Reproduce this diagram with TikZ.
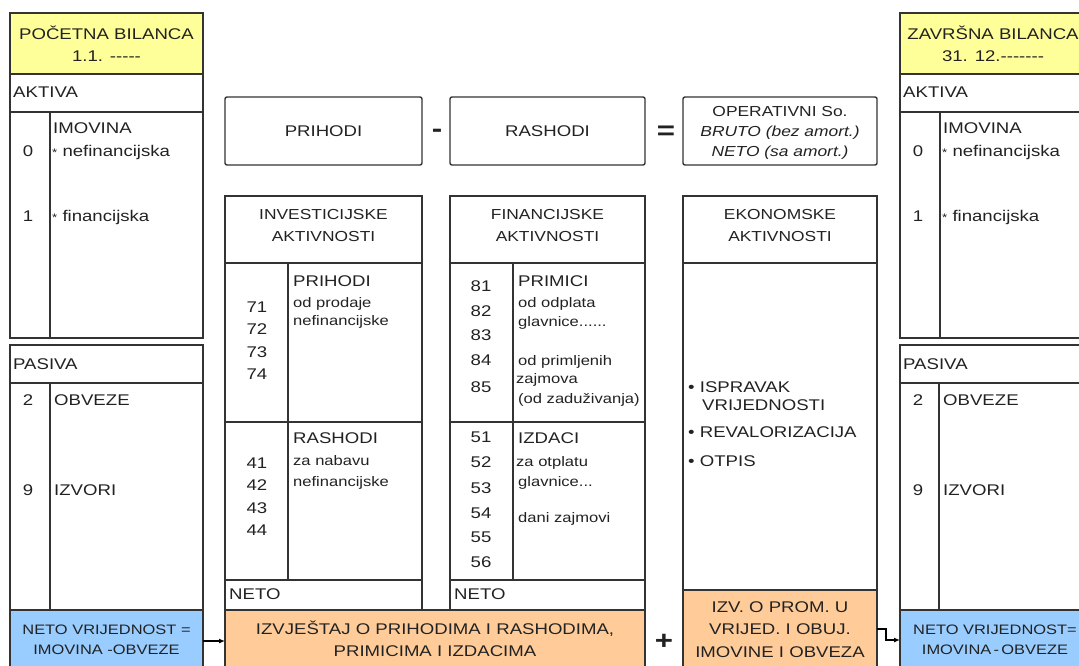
\documentclass[tikz,border=0pt]{standalone}
\usepackage{fontspec}
\setmainfont{Liberation Sans}[FakeStretch=1.2]
\usetikzlibrary{arrows.meta}
\definecolor{lc}{HTML}{333333}
\definecolor{txt}{HTML}{222222}
\definecolor{yel}{RGB}{255,255,153}
\definecolor{blu}{RGB}{153,204,255}
\definecolor{ora}{RGB}{255,204,153}
\newcommand\myBig{\fontsize{15.5}{22}\selectfont}
\newcommand\myMid{\fontsize{14.5}{22}\selectfont}
\newcommand\mySmall{\fontsize{13.8}{19}\selectfont}
\newcommand\myBlue{\fontsize{13.7}{20}\selectfont}
\newcommand\myOp{\fontsize{26}{26}\selectfont\bfseries}
\newcommand\hy{-\kern0pt\relax}
\begin{document}
\begin{tikzpicture}[x=1pt,y=-1pt,
  box/.style={draw=lc,line width=1.4pt,fill=white,anchor=north west,inner sep=0pt,outer sep=0pt},
  ln/.style={draw=lc,line width=1.4pt},
  lbl/.style={anchor=west,inner sep=0pt,text height=11pt,text depth=0pt,font=\myBig,text=txt},
  slbl/.style={anchor=west,inner sep=0pt,text height=10pt,text depth=0pt,font=\mySmall,text=txt},
  num/.style={inner sep=0pt,text height=11pt,text depth=0pt,font=\myBig,text=txt},
  mtxt/.style={align=center,inner sep=0pt,text=txt},
  optxt/.style={anchor=base,inner sep=0pt,font=\myOp,text=txt},
  arr/.style={draw=black,line width=1.2pt,-{Latex[length=6pt,width=5pt]}}
]
\useasboundingbox (0,0) rectangle (1079,666);
\fill[white] (0,0) rectangle (1079,666);
\clip (0,0) rectangle (1079,666);

% ---------- left column ----------
\node[box,fill=yel,minimum width=193pt,minimum height=61pt] (lhead) at (10,13) {};
\node[box,minimum width=193pt,minimum height=38pt] (lakt) at (10,74) {};
\node[box,minimum width=193pt,minimum height=226pt] (lbody) at (10,112) {};
\node[box,minimum width=193pt,minimum height=38pt] (lpas) at (10,345) {};
\node[box,minimum width=193pt,minimum height=227pt] (lpbody) at (10,383) {};
\node[box,fill=blu,minimum width=193pt,minimum height=62pt] (lblue) at (10,610) {};
\draw[ln] ([xshift=40pt]lbody.north west) -- ([xshift=40pt]lbody.south west);
\draw[ln] ([xshift=40pt]lpbody.north west) -- ([xshift=40pt]lpbody.south west);

\node[mtxt,font=\myBig] (lhead_t) at (106.5,43.5) {POČETNA BILANCA\\1.1. \hy\hy\hy\hy\hy};
\node[lbl] (lakt_t) at (13,92) {AKTIVA};
\node[num] (l0) at (28,151) {0};
\node[lbl] (limo) at (53,128) {IMOVINA};
\node[lbl] (lnef) at (52,151) {{\fontsize{11}{11}\selectfont*} nefinancijska};
\node[num] (l1) at (28,216) {1};
\node[lbl] (lfin) at (52,216) {{\fontsize{11}{11}\selectfont*} financijska};
\node[lbl] (lpas_t) at (13,364) {PASIVA};
\node[num] (l2) at (28,400) {2};
\node[lbl] (lobv) at (54,400) {OBVEZE};
\node[num] (l9) at (28,490) {9};
\node[lbl] (lizv) at (54,490) {IZVORI};
\node[mtxt,font=\myBlue] (lblue_t) at (106.5,640) {NETO VRIJEDNOST =\\IMOVINA \hy OBVEZE};

% ---------- right column ----------
\node[box,fill=yel,minimum width=193pt,minimum height=61pt] (rhead) at (900,13) {};
\node[box,minimum width=193pt,minimum height=38pt] (rakt) at (900,74) {};
\node[box,minimum width=193pt,minimum height=226pt] (rbody) at (900,112) {};
\node[box,minimum width=193pt,minimum height=38pt] (rpas) at (900,345) {};
\node[box,minimum width=193pt,minimum height=227pt] (rpbody) at (900,383) {};
\node[box,fill=blu,minimum width=193pt,minimum height=60pt] (rblue) at (900,610) {};
\draw[ln] ([xshift=40pt]rbody.north west) -- ([xshift=40pt]rbody.south west);
\draw[ln] ([xshift=39pt]rpbody.north west) -- ([xshift=39pt]rpbody.south west);

\node[mtxt,font=\myBig] (rhead_t) at (993,43.5) {ZAVRŠNA BILANCA\\31. 12.\hy\hy\hy\hy\hy\hy\hy};
\node[lbl] (rakt_t) at (903,92) {AKTIVA};
\node[num] (r0) at (918,151) {0};
\node[lbl] (rimo) at (943,128) {IMOVINA};
\node[lbl] (rnef) at (942,151) {{\fontsize{11}{11}\selectfont*} nefinancijska};
\node[num] (r1) at (918,216) {1};
\node[lbl] (rfin) at (942,216) {{\fontsize{11}{11}\selectfont*} financijska};
\node[lbl] (rpas_t) at (903,364) {PASIVA};
\node[num] (r2) at (918,400) {2};
\node[lbl] (robv) at (943,400) {OBVEZE};
\node[num] (r9) at (918,490) {9};
\node[lbl] (rizv) at (943,490) {IZVORI};
\node[mtxt,font=\myBlue] (rblue_t) at (995,640) {NETO VRIJEDNOST=\\IMOVINA\,\hy\,OBVEZE};

% ---------- top equation ----------
\node[box,rounded corners=2pt,minimum width=197pt,minimum height=68pt] (prih) at (225,97) {};
\node[box,rounded corners=2pt,minimum width=195pt,minimum height=68pt] (rash) at (450,97) {};
\node[box,rounded corners=2pt,minimum width=194pt,minimum height=68pt] (oper) at (683,97) {};
\node[mtxt,font=\myBig] (prih_t) at (prih.center) {PRIHODI};
\node[mtxt,font=\myBig] (rash_t) at (rash.center) {RASHODI};
\node[mtxt,font=\fontsize{14.5}{20}\selectfont] (oper_t) at (780,132.5) {OPERATIVNI So.\\\textit{BRUTO (bez amort.)}\\\textit{NETO (sa amort.)}};
\node[optxt] (minus) at (437,138) {-};
\node[optxt] (eq) at (666,140) {=};

% ---------- investicijske ----------
\node[box,minimum width=197pt,minimum height=67pt] (invh) at (225,196) {};
\node[box,minimum width=197pt,minimum height=159pt] (invp) at (225,263) {};
\node[box,minimum width=197pt,minimum height=158pt] (invr) at (225,422) {};
\node[box,minimum width=197pt,minimum height=30pt] (invn) at (225,580) {};
\draw[ln] ([xshift=63pt]invp.north west) -- ([xshift=63pt]invr.south west);
\node[mtxt,font=\myMid] (invh_t) at (323.5,226) {INVESTICIJSKE\\AKTIVNOSTI};
\foreach \t/\y in {71/307,72/329,73/352,74/374,41/463,42/485,43/508,44/530}
  \node[num] (n\t) at (257,\y) {\t};
\node[lbl] (invp_a) at (293,281) {PRIHODI};
\node[slbl] (invp_b) at (293,302) {od prodaje};
\node[slbl] (invp_c) at (293,320) {nefinancijske};
\node[lbl] (invr_a) at (293,438) {RASHODI};
\node[slbl] (invr_b) at (293,460) {za nabavu};
\node[slbl] (invr_c) at (293,481) {nefinancijske};
\node[lbl] (invn_t) at (229,594) {NETO};

% ---------- financijske ----------
\node[box,minimum width=195pt,minimum height=67pt] (finh) at (450,196) {};
\node[box,minimum width=195pt,minimum height=159pt] (finp) at (450,263) {};
\node[box,minimum width=195pt,minimum height=158pt] (finr) at (450,422) {};
\node[box,minimum width=195pt,minimum height=30pt] (finn) at (450,580) {};
\draw[ln] ([xshift=63pt]finp.north west) -- ([xshift=63pt]finr.south west);
\node[mtxt,font=\myMid] (finh_t) at (547.5,226) {FINANCIJSKE\\AKTIVNOSTI};
\foreach \t/\y in {81/286,82/311,83/335,84/360,85/387,51/437,52/462,53/488,54/513,55/537,56/562}
  \node[num] (n\t) at (481,\y) {\t};
\node[lbl] (finp_a) at (518,281) {PRIMICI};
\node[slbl] (finp_b) at (518,302) {od odplata};
\node[slbl] (finp_c) at (518,321) {glavnice......};
\node[slbl] (finp_d) at (518,360) {od primljenih};
\node[slbl] (finp_e) at (516,378) {zajmova};
\node[slbl] (finp_f) at (518,398) {(od zaduživanja)};
\node[lbl] (finr_a) at (518,438) {IZDACI};
\node[slbl] (finr_b) at (516,461) {za otplatu};
\node[slbl] (finr_c) at (518,481) {glavnice...};
\node[slbl] (finr_d) at (518,517) {dani zajmovi};
\node[lbl] (finn_t) at (454,594) {NETO};

% ---------- ekonomske ----------
\node[box,minimum width=194pt,minimum height=67pt] (ekoh) at (683,196) {};
\node[box,minimum width=194pt,minimum height=327pt] (ekob) at (683,263) {};
\node[mtxt,font=\myMid] (ekoh_t) at (780,226) {EKONOMSKE\\AKTIVNOSTI};
\node[lbl] (eb1) at (688,387) {• ISPRAVAK};
\node[lbl] (eb1b) at (702,405) {VRIJEDNOSTI};
\node[lbl] (eb2) at (688,432) {• REVALORIZACIJA};
\node[lbl] (eb3) at (688,461) {• OTPIS};

% ---------- bottom reports ----------
\node[box,fill=ora,minimum width=420pt,minimum height=62pt] (ozv) at (225,610) {};
\node[mtxt,font=\myBig] (ozv_t) at (435,639) {IZVJEŠTAJ O PRIHODIMA I RASHODIMA,\\PRIMICIMA I IZDACIMA};
\node[optxt] (plus) at (664,649) {+};
\node[box,fill=ora,minimum width=194pt,minimum height=78pt] (ozv2) at (683,590) {};
\node[mtxt,font=\fontsize{15.5}{22.5}\selectfont] (ozv2_t) at (780,629.5) {IZV. O PROM. U\\VRIJED. I OBUJ.\\IMOVINE I OBVEZA};

% ---------- connectors ----------
\draw[arr] (lblue.east) -- (ozv.west);
\draw[arr] (ozv2.east) -- ++(9,0) |- (rblue.west);
\end{tikzpicture}
\end{document}
